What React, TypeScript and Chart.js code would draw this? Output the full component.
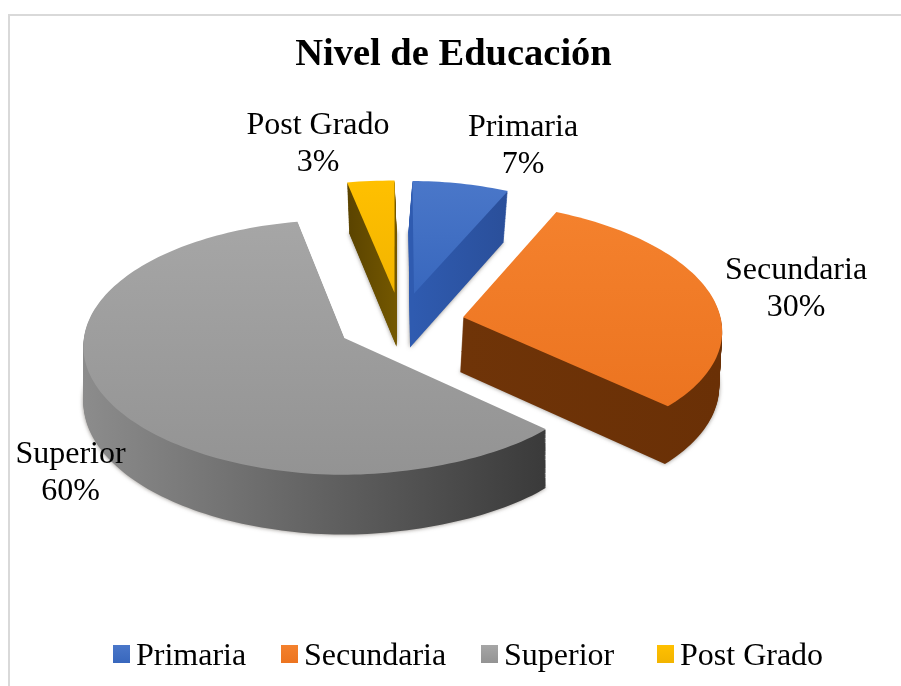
import React, { useEffect, useRef } from "react";
import { Chart, registerables } from "chart.js";

Chart.register(...registerables);

const titleText = "Nivel de Educación";
const categories = ["Primaria", "Secundaria", "Superior", "Post Grado"];
const percentages = [7, 30, 60, 3];

const topColors = [
  ["#4a77c9", "#3867bd"],
  ["#f4812d", "#ec7420"],
  ["#a6a6a6", "#939393"],
  ["#ffc000", "#f2b400"],
];
const wallColors = [
  ["#2f5bb0", "#2a4f9a"],
  ["#6f3408", "#6a3006"],
  ["#8c8c8c", "#3a3a3a"],
  ["#5a4300", "#735700"],
];
const wallLean = [-4, -3, 0, 2];

const FONT = '"Liberation Serif", "Times New Roman", serif';
const view = {
  originX: 400.5, originY: 323, radius: 258.5, explode: 64,
  tilt: 0.482, perspective: 0.00028, depth: 55, skew: 0.024, skewSpan: 120,
};
const labelSpots = [
  { x: 523, y: 136 },
  { x: 796, y: 279 },
  { x: 70.5, y: 463 },
  { x: 318, y: 134 },
];
const legendSpots = [113, 281, 481, 657];

const pie3d = {
  id: "pie3d",
  beforeDatasetDraw(chart: any) {
    const ctx = chart.ctx as CanvasRenderingContext2D;
    const arcs = chart.getDatasetMeta(0).data as any[];
    const project = (u: number, v: number) => {
      const s = 1 / (1 - view.perspective * v);
      const lean = view.skew * v * Math.min(1, Math.abs(u) / view.skewSpan);
      return { x: view.originX + u * s + lean, y: view.originY + view.tilt * v * s, s };
    };
    const slices = arcs.map((arc, i) => {
      const { startAngle, endAngle, outerRadius } = arc.getProps(
        ["startAngle", "endAngle", "outerRadius"], true);
      const mid = (startAngle + endAngle) / 2;
      const off = arc.options.offset;
      const ax = Math.cos(mid) * off;
      const ay = Math.sin(mid) * off;
      const pts = [project(ax, ay)];
      const steps = Math.max(8, Math.round((endAngle - startAngle) * 40));
      for (let k = 0; k <= steps; k++) {
        const t = startAngle + ((endAngle - startAngle) * k) / steps;
        pts.push(project(ax + Math.cos(t) * outerRadius, ay + Math.sin(t) * outerRadius));
      }
      return { i, pts, order: Math.sin(mid) };
    });
    slices.sort((a, b) => a.order - b.order);
    const trace = (pts: any[], d: number, dx: number) => {
      ctx.beginPath();
      pts.forEach((p, n) => {
        const y = p.y + d * p.s;
        if (n === 0) ctx.moveTo(p.x + dx, y);
        else ctx.lineTo(p.x + dx, y);
      });
      ctx.closePath();
    };
    ctx.save();
    for (const { i, pts } of slices) {
      const xs = pts.map((p) => p.x);
      const ys = pts.map((p) => p.y);
      const wall = ctx.createLinearGradient(Math.min(...xs), 0, Math.max(...xs), 0);
      wall.addColorStop(0, wallColors[i][0]);
      wall.addColorStop(1, wallColors[i][1]);
      ctx.fillStyle = wall;
      for (let d = view.depth; d > 0; d -= 1) {
        ctx.shadowColor = d === view.depth ? "rgba(50,40,30,0.55)" : "transparent";
        ctx.shadowBlur = d === view.depth ? 4 : 0;
        trace(pts, d, (wallLean[i] * d) / view.depth);
        ctx.fill();
      }
      ctx.shadowColor = "transparent";
      ctx.shadowBlur = 0;
      const top = ctx.createLinearGradient(0, Math.min(...ys), 0, Math.max(...ys));
      top.addColorStop(0, topColors[i][0]);
      top.addColorStop(1, topColors[i][1]);
      ctx.fillStyle = top;
      trace(pts, 0, 0);
      ctx.fill();
    }
    ctx.restore();
    return false;
  },
  afterDraw(chart: any) {
    const ctx = chart.ctx as CanvasRenderingContext2D;
    ctx.save();
    ctx.fillStyle = "#000";
    ctx.font = `32px ${FONT}`;
    ctx.textAlign = "center";
    ctx.textBaseline = "alphabetic";
    categories.forEach((name, i) => {
      const { x, y } = labelSpots[i];
      ctx.fillText(name, x, y);
      ctx.fillText(`${percentages[i]}%`, x, y + 37);
    });
    ctx.textAlign = "left";
    categories.forEach((name, i) => {
      const x = legendSpots[i];
      const g = ctx.createLinearGradient(0, 645, 0, 663);
      g.addColorStop(0, topColors[i][0]);
      g.addColorStop(1, topColors[i][1]);
      ctx.fillStyle = g;
      ctx.fillRect(x, 645, 17, 18);
      ctx.fillStyle = "#000";
      ctx.fillText(name, x + 23, 664.5);
    });
    ctx.restore();
  },
};

export default function App() {
  const ref = useRef<HTMLCanvasElement>(null);
  useEffect(() => {
    const chart = new Chart(ref.current!, {
      type: "pie",
      plugins: [pie3d],
      data: {
        labels: categories,
        datasets: [{
          data: percentages,
          backgroundColor: topColors.map((c) => c[0]),
          borderWidth: 0,
          offset: view.explode,
          clip: false,
        } as any],
      },
      options: {
        responsive: false,
        animation: false,
        radius: view.radius,
        layout: { padding: { left: 6, right: 0 } },
        plugins: {
          legend: { display: false },
          tooltip: { enabled: false },
          title: {
            display: true,
            text: titleText,
            color: "#000",
            font: { family: FONT, size: 38.5, weight: "bold" },
            padding: { top: 32, bottom: 10 },
          },
        },
      } as any,
    });
    return () => chart.destroy();
  }, []);
  return (
    <>
      <div style={{
        position: "fixed", left: 8, top: 14, right: 0, bottom: 0,
        borderLeft: "2px solid #d9d9d9", borderTop: "2px solid #d9d9d9",
      }} />
      <canvas ref={ref} width={901} height={686}
        style={{ position: "fixed", left: 0, top: 0, display: "block" }} />
    </>
  );
}
